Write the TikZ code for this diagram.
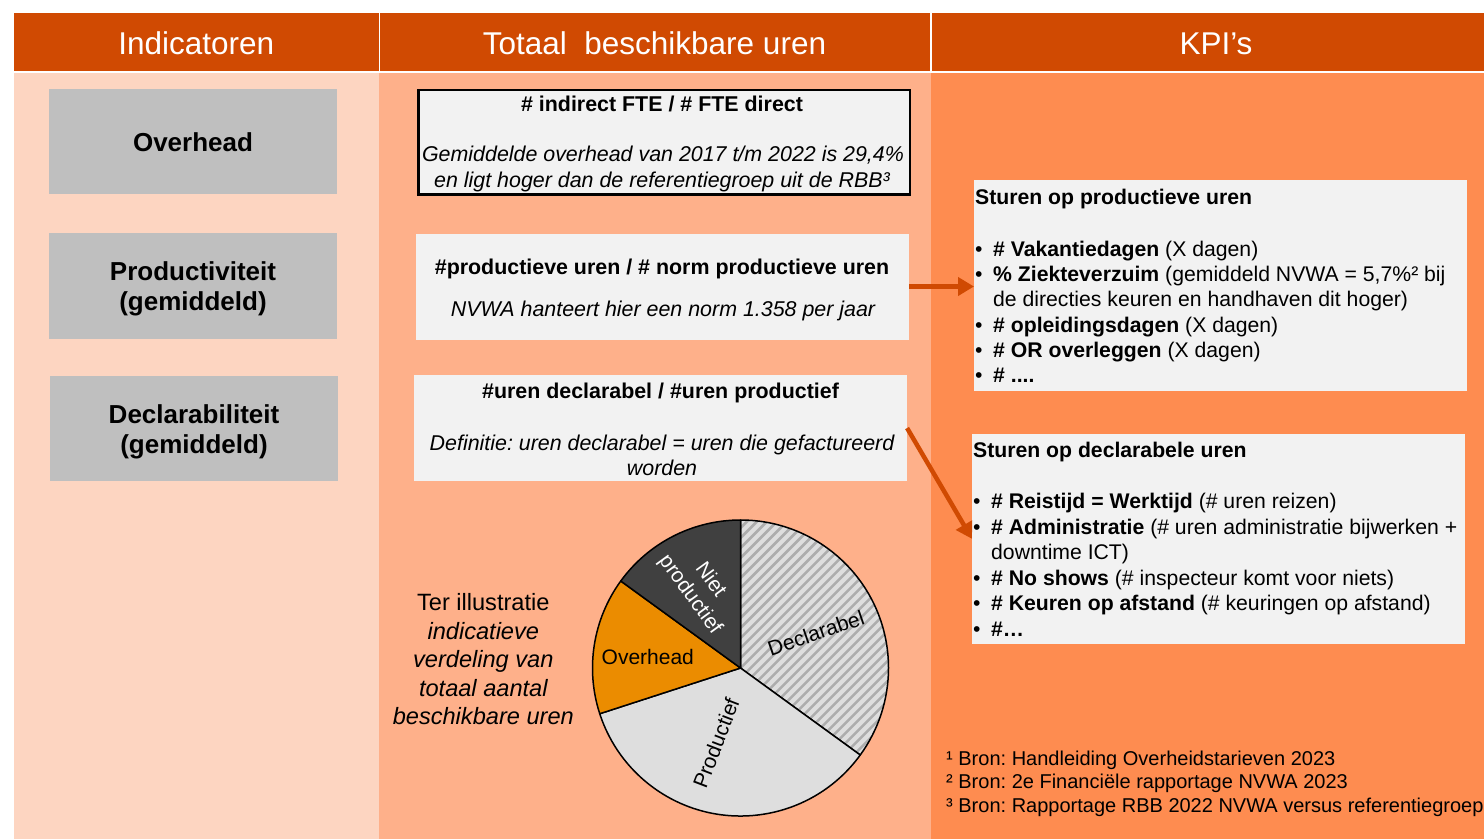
\documentclass[tikz,border=0pt]{standalone}
\usepackage{fontspec}
\setmainfont{Liberation Sans}
\frenchspacing
\usetikzlibrary{arrows.meta,calc}
\definecolor{hdr}{HTML}{D04A02}
\definecolor{colA}{HTML}{FDD5C1}
\definecolor{colB}{HTML}{FEB08A}
\definecolor{colC}{HTML}{FE8C50}
\definecolor{grayb}{HTML}{BFBFBF}
\definecolor{boxc}{HTML}{F2F2F2}
\definecolor{arrc}{HTML}{D04A02}
\definecolor{pielight}{HTML}{DEDEDE}
\definecolor{piestripe}{HTML}{ADADAD}
\definecolor{pieorange}{HTML}{EB8C00}
\definecolor{piedark}{HTML}{404040}
\begin{document}
\begin{tikzpicture}[x=1pt,y=-1pt,
  hdrbox/.style={fill=hdr,inner sep=0,anchor=north west},
  hdrtxt/.style={text=white,font=\fontsize{31.5}{38}\selectfont,anchor=base,inner sep=0},
  graybox/.style={fill=grayb,inner sep=0,anchor=north west,minimum width=288pt,minimum height=105.5pt},
  txtbox/.style={fill=boxc,inner sep=0,anchor=north west},
  lbl/.style={font=\bfseries\fontsize{26}{30}\selectfont,anchor=base,inner sep=0},
  tb/.style={font=\bfseries\fontsize{21.4}{25}\selectfont,anchor=base,inner sep=0},
  ti/.style={font=\itshape\fontsize{21.4}{25}\selectfont,anchor=base,inner sep=0},
  kt/.style={font=\fontsize{21.2}{24}\selectfont,anchor=base west,inner sep=0},
  fn/.style={font=\fontsize{20}{23}\selectfont,anchor=base west,inner sep=0},
  ill/.style={font=\fontsize{23.6}{28.6}\selectfont,anchor=base,inner sep=0},
  illi/.style={ill,font=\itshape\fontsize{23.6}{28.6}\selectfont},
  pl/.style={font=\fontsize{21}{25}\selectfont,inner sep=0},
  conn/.style={draw=arrc,line width=4.5pt,-{Triangle[length=16pt,width=18pt]}},
  pieedge/.style={draw=black,line width=1.5pt,line join=round},
  stripe/.style={draw=piestripe,line width=2.5pt},
]
\useasboundingbox (0,0) rectangle (1484,839);
\fill[white] (0,0) rectangle (1484,839);
% column backgrounds
\fill[colA] (14,73) rectangle (379,839);
\fill[colB] (379,73) rectangle (931,839);
\fill[colC] (931,73) rectangle (1484,839);
% headers
\node[hdrbox,minimum width=364.3pt,minimum height=58.7pt] (h1) at (14,12.3) {};
\node[hdrbox,minimum width=550pt,minimum height=58.7pt] (h2) at (380,12.3) {};
\node[hdrbox,minimum width=552pt,minimum height=58.7pt] (h3) at (932,12.3) {};
\node[hdrtxt] (h1t) at (196.2,54) {Indicatoren};
\node[hdrtxt] (h2t) at (654.5,54) {Totaal\ \ beschikbare uren};
\node[hdrtxt] (h3t) at (1216,54) {KPI’s};
% indicator boxes
\node[graybox] (g1) at (49,88.3) {};
\node[graybox] (g2) at (49,233) {};
\node[graybox] (g3) at (50,375.5) {};
\node[lbl] (g1t) at (193,151) {Overhead};
\node[lbl] (g2a) at (193,280) {Productiviteit};
\node[lbl] (g2b) at (193,310) {(gemiddeld)};
\node[lbl] (g3a) at (194,423.3) {Declarabiliteit};
\node[lbl] (g3b) at (194,453.3) {(gemiddeld)};
% middle boxes
\node[txtbox,draw=black,line width=2.5pt,minimum width=491.5pt,minimum height=104.5pt] (b1) at (417,88.5) {};
\node[tb] (b1a) at (662,111.7) {\# indirect FTE / \# FTE direct};
\node[ti] (b1b) at (663,161.7) {Gemiddelde overhead van 2017 t/m 2022 is 29,4\%};
\node[ti] (b1c) at (662,187.3) {en ligt hoger dan de referentiegroep uit de RBB³};
\node[txtbox,minimum width=493pt,minimum height=106pt] (b2) at (416,233.3) {};
\node[tb] (b2a) at (662,274) {\#productieve uren / \# norm productieve uren};
\node[ti] (b2b) at (663,316) {NVWA hanteert hier een norm 1.358 per jaar};
\node[txtbox,minimum width=492.7pt,minimum height=105.7pt] (b3) at (414,375) {};
\node[tb] (b3a) at (660.5,398) {\#uren declarabel / \#uren productief};
\node[ti] (b3b) at (662,450) {Definitie: uren declarabel = uren die gefactureerd};
\node[ti] (b3c) at (662,475) {worden};
% KPI boxes
\node[txtbox,minimum width=493pt,minimum height=211pt] (k1) at (974,180) {};
\node[kt] (k1t) at (975,204.5) {\bfseries Sturen op productieve uren};
\node[kt] (k1b1) at (975,256) {•};
\node[kt] (k1l1) at (993,256) {\textbf{\# Vakantiedagen} (X dagen)};
\node[kt] (k1b2) at (975,281.3) {•};
\node[kt] (k1l2) at (993,281.3) {\textbf{\% Ziekteverzuim} (gemiddeld NVWA = 5,7\%² bij};
\node[kt] (k1l2c) at (993,306.7) {de directies keuren en handhaven dit hoger)};
\node[kt] (k1b3) at (975,332) {•};
\node[kt] (k1l3) at (993,332) {\textbf{\# opleidingsdagen} (X dagen)};
\node[kt] (k1b4) at (975,357.3) {•};
\node[kt] (k1l4) at (993,357.3) {\textbf{\# OR overleggen} (X dagen)};
\node[kt] (k1b5) at (975,382.5) {•};
\node[kt] (k1l5) at (993,382.5) {\textbf{\# ....}};
\node[txtbox,minimum width=493pt,minimum height=210.7pt] (k2) at (972,433.3) {};
\node[kt] (k2t) at (973,457.7) {\bfseries Sturen op declarabele uren};
\node[kt] (k2b1) at (973,508.3) {•};
\node[kt] (k2l1) at (991,508.3) {\textbf{\# Reistijd = Werktijd} (\# uren reizen)};
\node[kt] (k2b2) at (973,534) {•};
\node[kt] (k2l2) at (991,534) {\textbf{\# Administratie} (\# uren administratie bijwerken +};
\node[kt] (k2l2c) at (991,559.3) {downtime ICT)};
\node[kt] (k2b3) at (973,585) {•};
\node[kt] (k2l3) at (991,585) {\textbf{\# No shows} (\# inspecteur komt voor niets)};
\node[kt] (k2b4) at (973,610.7) {•};
\node[kt] (k2l4) at (991,610.7) {\textbf{\# Keuren op afstand} (\# keuringen op afstand)};
\node[kt] (k2b5) at (973,636) {•};
\node[kt] (k2l5) at (991,636) {\textbf{\#…}};
% arrows
\draw[conn] (b2.east) -- (b2.east -| k1.west);
\draw[conn] (b3.east) -- (k2.west);
% footnotes
\node[fn] (f1) at (946,765) {¹ Bron: Handleiding Overheidstarieven 2023};
\node[fn] (f2) at (946,788.5) {² Bron: 2e Financiële rapportage NVWA 2023};
\node[fn] (f3) at (946,812) {³ Bron: Rapportage RBB 2022 NVWA versus referentiegroep};
% illustration text
\node[ill] (i1) at (483.3,610.5) {Ter illustratie};
\node[illi] (i2) at (483.3,639) {indicatieve};
\node[illi] (i3) at (483.3,667.5) {verdeling van};
\node[illi] (i4) at (483.3,696) {totaal aantal};
\node[illi] (i5) at (483.3,724.5) {beschikbare uren};
% pie
\coordinate (pc) at (740.5,668);
\fill[pielight] (pc) -- ++(90:148pt) arc[start angle=90,end angle=-36,radius=148pt] -- cycle;
\begin{scope}
  \clip (pc) -- ++(90:148pt) arc[start angle=90,end angle=-36,radius=148pt] -- cycle;
  \foreach \k in {-17,...,26} {
    \draw[stripe] ($(pc)+(\k*10pt-200pt,-200pt)$) -- ++(400pt,400pt);
  }
\end{scope}
\path[pieedge] (pc) -- ++(90:148pt) arc[start angle=90,end angle=-36,radius=148pt] -- cycle;
\path[pieedge,fill=pielight] (pc) -- ++(-36:148pt) arc[start angle=-36,end angle=-162,radius=148pt] -- cycle;
\path[pieedge,fill=pieorange] (pc) -- ++(198:148pt) arc[start angle=198,end angle=144,radius=148pt] -- cycle;
\path[pieedge,fill=piedark] (pc) -- ++(144:148pt) arc[start angle=144,end angle=90,radius=148pt] -- cycle;
\node[pl,rotate=19] (pd) at (816,633) {Declarabel};
\node[pl,rotate=69] (pp) at (716,743) {Productief};
\node[pl,rotate=-54,text=white,align=center] (pn) at (700,587.5) {Niet\\productief};
\node[pl,anchor=base west] (po) at (601.5,664) {Overhead};
\end{tikzpicture}
\end{document}
